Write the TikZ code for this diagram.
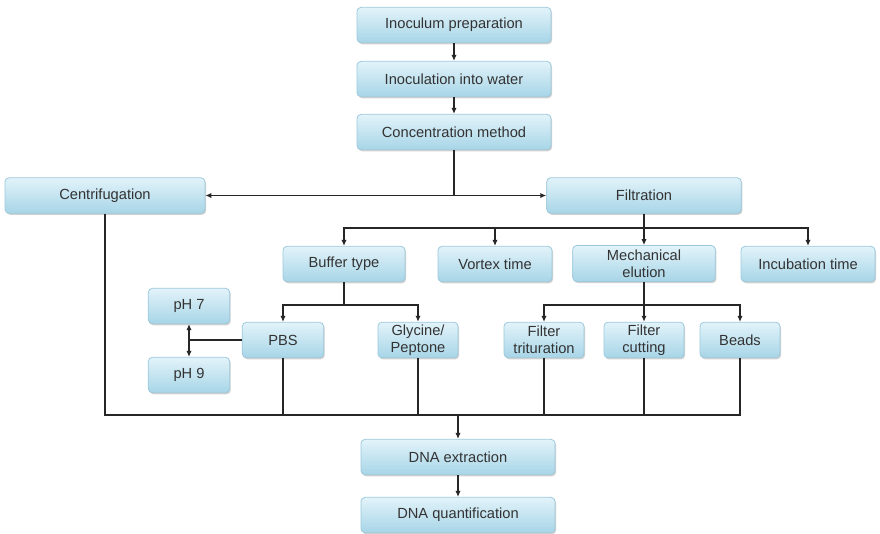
\documentclass[tikz,border=0pt]{standalone}
\usepackage{fontspec}
\setmainfont{Liberation Sans}
\usetikzlibrary{positioning,arrows.meta,shadows}

\definecolor{boxtop}{HTML}{E2F3FA}
\definecolor{boxbot}{HTML}{A7D5E7}
\definecolor{boxline}{HTML}{9CC9DC}
\definecolor{wire}{HTML}{262626}

\begin{document}
\begin{tikzpicture}[x=0.75pt, y=-0.75pt, >={Latex[length=4.5pt,width=4pt]},
  every node/.style={font=\fontsize{11}{12.5}\selectfont, text=black!80},
  box/.style={draw=boxline, line width=0.6pt, rounded corners=3pt, top color=boxtop, bottom color=boxbot,
    align=center, inner sep=2pt, minimum height=26.5pt,
    drop shadow={shadow xshift=0.8pt, shadow yshift=-1.2pt, opacity=0.3, fill=black!60}},
  wide/.style={box, minimum width=145.5pt},
  small/.style={box, minimum width=61pt},
  line/.style={draw=wire, line width=1.4pt},
  arr/.style={line, ->}]
\useasboundingbox (0,0) rectangle (880,533);

% main chain
\node[wide] (prep) at (454,25) {Inoculum preparation};
\node[wide] (water) at (454,79) {Inoculation into water};
\node[wide] (conc) at (454,132) {Concentration method};
\node[box, minimum width=150pt] (centri) at (105,195.5) {Centrifugation};
\node[box, minimum width=146pt] (filt) at (644,195.5) {Filtration};

% filtration parameters
\node[box, minimum width=91.5pt] (buffer) at (344,264) {Buffer type};
\node[box, minimum width=85.5pt] (vortex) at (495,264) {Vortex time};
\node[box, minimum width=107pt, minimum height=27pt] (mech) at (644,263.5) {Mechanical\\elution};
\node[box, minimum width=100.5pt] (incub) at (808,264) {Incubation time};

% second level
\node[small] (ph7) at (189,306) {pH 7};
\node[small] (pbs) at (283,340) {PBS};
\node[small, minimum width=60pt] (glyc) at (418,340) {Glycine/\\Peptone};
\node[small, minimum width=60pt] (ftrit) at (544,340) {Filter\\trituration};
\node[small, minimum width=60pt] (fcut) at (644,340) {Filter\\cutting};
\node[small, minimum width=60pt] (beads) at (740,340) {Beads};
\node[small] (ph9) at (189,375) {pH 9};

\node[wide] (dnaext) at (458,457) {DNA extraction};
\node[wide] (dnaq) at (458,515) {DNA quantification};

% junctions
\coordinate (split) at (conc.south |- centri.east);
\coordinate (fbus) at (644,228);
\coordinate (bbus) at (344,305);
\coordinate (mbus) at (644,305);
\coordinate (phx) at (ph7.south |- pbs.west);
\coordinate (low) at (458,415);

\draw[arr] (prep) -- (water);
\draw[arr] (water) -- (conc);
\draw[line] (conc.south) -- (split);
\draw[arr] (split) -- (centri.east);
\draw[arr] (split) -- (filt.west);

\draw[line] (filt.south) -- (fbus);
\draw[arr] (fbus) -| (buffer.north);
\draw[arr] (fbus) -| (vortex.north);
\draw[arr] (fbus) -- (mech.north);
\draw[arr] (fbus) -| (incub.north);

\draw[line] (buffer.south) -- (bbus);
\draw[arr] (bbus) -| (pbs.north);
\draw[arr] (bbus) -| (glyc.north);
\draw[line] (mech.south) -- (mbus);
\draw[arr] (mbus) -| (ftrit.north);
\draw[arr] (mbus) -- (fcut.north);
\draw[arr] (mbus) -| (beads.north);

\draw[line] (pbs.west) -- (phx);
\draw[arr] (phx) -- (ph7.south);
\draw[arr] (phx) -- (ph9.north);

\draw[line] (centri.south) |- (low);
\draw[line] (beads.south) |- (low);
\draw[line] (pbs.south) -- (pbs.south |- low);
\draw[line] (glyc.south) -- (glyc.south |- low);
\draw[line] (ftrit.south) -- (ftrit.south |- low);
\draw[line] (fcut.south) -- (fcut.south |- low);
\draw[arr] (low) -- (dnaext.north);
\draw[arr] (dnaext) -- (dnaq);
\end{tikzpicture}
\end{document}
